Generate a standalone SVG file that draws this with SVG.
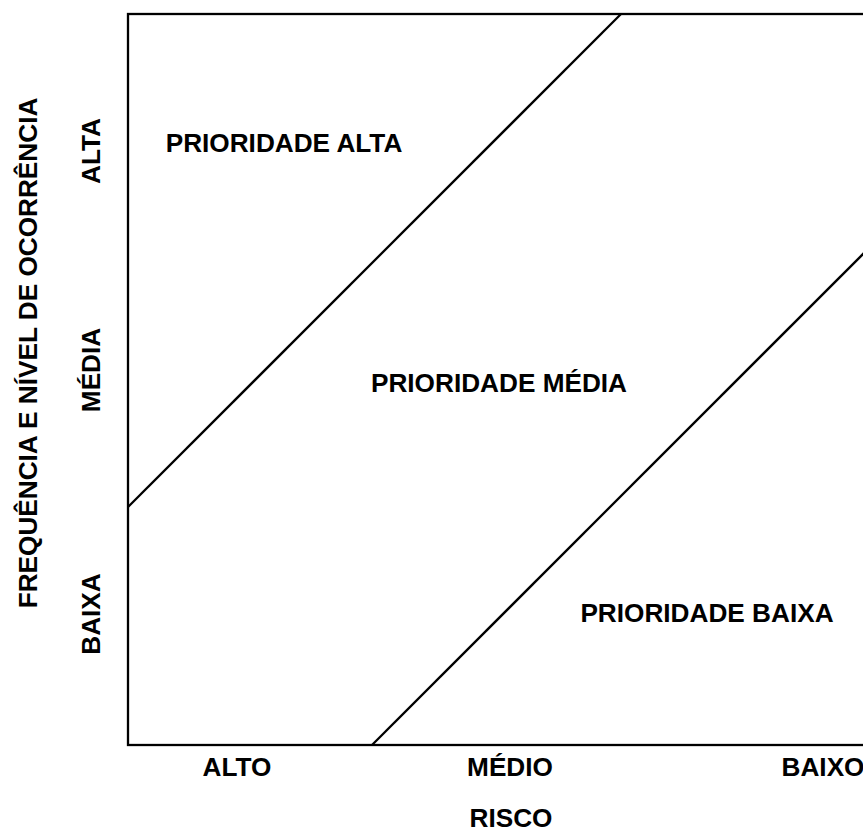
<svg xmlns="http://www.w3.org/2000/svg" width="863" height="832" viewBox="0 0 863 832">
<style>
text{font-family:"Liberation Sans",Arial,sans-serif;font-weight:bold;font-size:26.2px;fill:#000;text-anchor:middle}
.ln{stroke:#000;stroke-width:2.3;fill:none}
</style>
<rect width="863" height="832" fill="#fff"/>
<g id="frame"><rect class="ln" x="128" y="14" width="770" height="731"/></g>
<g id="connectors">
<line class="ln" x1="128" y1="507" x2="621" y2="14"/>
<line class="ln" x1="372" y1="745" x2="885" y2="232"/>
</g>
<g id="zone-alta"><text x="284" y="152">PRIORIDADE ALTA</text></g>
<g id="zone-media"><text x="499" y="392">PRIORIDADE MÉDIA</text></g>
<g id="zone-baixa"><text x="707" y="622">PRIORIDADE BAIXA</text></g>
<g id="x-axis">
<text x="237" y="776">ALTO</text>
<text x="510" y="776">MÉDIO</text>
<text x="823" y="776">BAIXO</text>
<text x="511" y="827">RISCO</text>
</g>
<g id="y-axis">
<text transform="translate(100,151) rotate(-90)">ALTA</text>
<text transform="translate(100,370) rotate(-90)">MÉDIA</text>
<text transform="translate(100,614) rotate(-90)">BAIXA</text>
<text transform="translate(37,353) rotate(-90)">FREQUÊNCIA E NÍVEL DE OCORRÊNCIA</text>
</g>
</svg>
